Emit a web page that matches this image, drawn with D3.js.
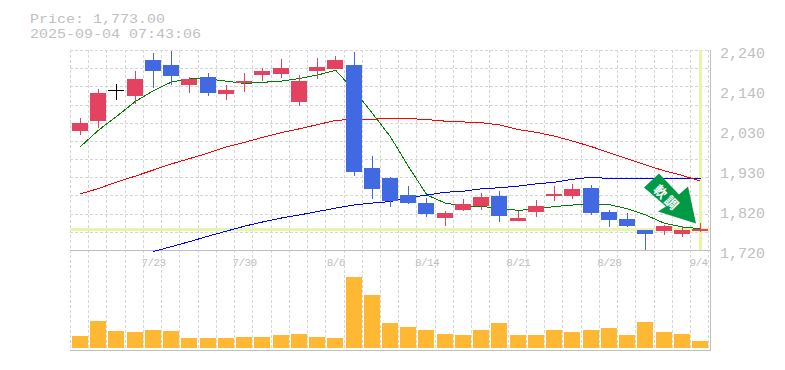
<!DOCTYPE html>
<html><head><meta charset="utf-8">
<script src="https://cdn.jsdelivr.net/npm/d3@7"></script>
<style>
html,body{margin:0;padding:0;background:#fff}
svg{display:block}
text{font-family:"Liberation Mono",monospace;fill:#c0c0c0}
</style></head><body>
<svg id="c" width="785" height="370"></svg>
<script>
const priceLabel = "Price: 1,773.00";
const timeLabel = "2025-09-04 07:43:06";
const signalLabel = ["軟","調"];
const lastPrice = 1773;
const highs  = [2063,2139,2152,2185,2232,2237,2170,2180,2149,2180,2193,2217,2175,2219,2224,2235,1964,1910,1886,1855,1821,1853,1868,1873,1821,1850,1886,1892,1889,1824,1816,1772,1785,1782,1790];
const opens  = [2029,2055,2136,2120,2214,2201,2149,2170,2126,2154,2175,2178,2105,2185,2191,2201,1933,1907,1863,1842,1803,1824,1834,1860,1795,1819,1860,1860,1881,1819,1801,1772,1769,1762,1769];
const closes = [2050,2128,2136,2165,2185,2172,2165,2128,2136,2159,2185,2193,2159,2196,2214,1923,1879,1847,1842,1814,1816,1840,1858,1808,1803,1834,1866,1879,1816,1798,1782,1762,1782,1772,1775];
const lows   = [2019,2037,2110,2100,2141,2149,2128,2120,2110,2131,2159,2167,2094,2165,2191,1912,1853,1832,1840,1806,1782,1821,1824,1793,1795,1806,1847,1853,1811,1780,1780,1720,1759,1754,1767];
const volumes = [12,27,17,16,18,17,10,10,10,11,11,13,14,11,10,71,53,25,21,18,14,13,18,25,13,13,18,16,18,20,13,26,16,14,7];
const maShort = [1989,2032,2068,2106,2134,2157,2165,2165,2159,2153,2156,2159,2166,2175,2187,2135,2076,2014,1936,1863,1842,1834,1833,1829,1823,1827,1833,1837,1840,1838,1827,1811,1790,1780,1775];
const maMid = [1866,1880,1897,1912,1928,1944,1958,1972,1988,2000,2013,2025,2035,2046,2057,2060,2060,2062,2062,2059,2055,2053,2051,2045,2033,2026,2016,2003,1989,1973,1957,1941,1926,1914,1899];
const maLong = [null,null,null,null,1716,1729,1742,1756,1769,1782,1793,1803,1811,1820,1829,1837,1842,1846,1856,1863,1870,1873,1879,1882,1886,1892,1896,1904,1909,1906,1906,1906,1906,1906,1906];
const priceTicks = [2240,2136,2032,1928,1824,1720];
const dateIndex = [4,9,14,19,24,29,34];
const dateLabels = ["7/23","7/30","8/6","8/14","8/21","8/28","9/4"];

const svg = d3.select("#c");
const L=70,R=710,T=50,B=250,VB=350;
const n = closes.length;
const step = (700-80)/(n-1);
const x = d3.scaleLinear().domain([0,n-1]).range([80,700]);
const y = d3.scaleLinear().domain([1720,2240]).range([B,T]);
const v = d3.scaleLinear().domain([0,71]).range([348,277]);
const left = i => Math.round(x(i)-8);
const cx = i => left(i)+8.5;
const py = val => Math.round(y(val));

// grid
const grid = svg.append("g").attr("stroke","#d6d6d6").attr("stroke-dasharray","3,2").attr("shape-rendering","crispEdges");
d3.range(0,36).forEach(i=>{
  const gx=Math.round(L+step*i)+.5;
  grid.append("line").attr("x1",gx).attr("x2",gx).attr("y1",T).attr("y2",VB);
});
d3.range(0,11).forEach(i=>{
  const gy=Math.round(T+(B-T)/11*i)+.5;
  grid.append("line").attr("x1",L).attr("x2",R).attr("y1",gy).attr("y2",gy);
});

// last price cross lines
svg.append("rect").attr("x",L).attr("width",R-L).attr("y",y(lastPrice)-1.5).attr("height",3).attr("fill","#e6f5a8");
svg.append("rect").attr("x",x(n-1)-1).attr("width",3).attr("y",T).attr("height",B-T).attr("fill","#e6f5a8");

// frame
const frame = svg.append("g").attr("stroke","#c0c0c0").attr("shape-rendering","crispEdges");
frame.append("line").attr("x1",L).attr("x2",R+1).attr("y1",B+.5).attr("y2",B+.5);
frame.append("line").attr("x1",L).attr("x2",R+1).attr("y1",VB+.5).attr("y2",VB+.5);
frame.append("line").attr("x1",R+.5).attr("x2",R+.5).attr("y1",T).attr("y2",VB);

// volume
svg.append("g").selectAll("rect").data(volumes).join("rect")
  .attr("x",(d,i)=>left(i)).attr("width",16)
  .attr("y",d=>v(d)).attr("height",d=>v(0)-v(d)).attr("fill","#ffb833");

// moving averages
const line = d3.line().defined(d=>d!==null).x((d,i)=>x(i)+.5).y(d=>y(d));
[[maLong,"#0000ff"],[maMid,"#ff0000"],[maShort,"#008000"]].forEach(([s,c])=>{
  svg.append("path").attr("d",line(s)).attr("fill","none").attr("stroke",c).attr("stroke-width",1)
    .attr("shape-rendering","crispEdges");
});

// candles
const colorOf = i => closes[i]>opens[i] ? "#e34260" : closes[i]<opens[i] ? "#4169e1" : "#000000";
const candles = svg.append("g").attr("shape-rendering","crispEdges");
closes.forEach((c,i)=>{
  candles.append("line").attr("x1",cx(i)).attr("x2",cx(i)).attr("y1",py(highs[i])).attr("y2",py(lows[i]))
    .attr("stroke",colorOf(i)).attr("stroke-width",1);
  const top=py(Math.max(c,opens[i])), bot=py(Math.min(c,opens[i]));
  candles.append("rect").attr("x",left(i)).attr("width",16).attr("y",top).attr("height",Math.max(1,bot-top)).attr("fill",colorOf(i));
});

// signal arrow, anchored on last candle
const ax=x(n-1), ay=y(lastPrice);
const arrow=[[-41,-56],[-56,-42],[-34,-23],[-42,-18],[-4,-6],[-12,-43],[-21,-35]];
svg.append("polygon").attr("points",arrow.map(p=>[ax+p[0],ay+p[1]].join(",")).join(" ")).attr("fill","#009944");
signalLabel.forEach((t,i)=>{
  svg.append("text").text(t)
    .attr("transform",`translate(${ax-39.5+i*11},${ay-38+i*11}) rotate(45)`)
    .attr("text-anchor","middle").attr("dy","0.38em")
    .style("font-family",'"Noto Sans CJK JP"').style("font-size","13px").style("font-weight","700").style("fill","#fff");
});

// axes
const yAxis=d3.axisRight(y).tickValues(priceTicks).tickSize(0).tickPadding(10)
  .tickFormat(d=>d3.format(",")(Math.round(d/10)*10));
const yg=svg.append("g").attr("transform",`translate(${R},3)`).call(yAxis);
yg.select(".domain").remove();
yg.selectAll("text").style("font-size","15px");

const xAxis=d3.axisBottom(x).tickValues(dateIndex).tickSize(0).tickPadding(0)
  .tickFormat((d,i)=>dateLabels[i]);
const xg=svg.append("g").attr("transform",`translate(0,${B+8})`).call(xAxis);
xg.select(".domain").remove();
xg.selectAll("text").style("font-size","11px").style("letter-spacing","-0.6px")
  .attr("dx",(d,i)=>i===dateLabels.length-1?-2:0);

// header
[[priceLabel,23],[timeLabel,38]].forEach(([t,yy])=>{
  svg.append("text").attr("x",30).attr("y",yy).text(t).style("font-size","13.2px")
    .attr("textLength",t.length*9).attr("lengthAdjust","spacingAndGlyphs");
});
</script>
</body></html>
